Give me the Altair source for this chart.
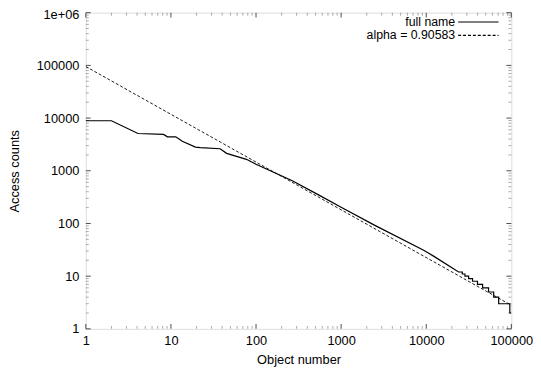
import altair as alt
import pandas as pd

# ---- data ----
series_names = ["full name", "alpha = 0.90583"]

full_rank = [1, 2, 4.1, 8.2, 9.1, 11.4, 13.6, 19.4, 22.2, 37.8, 45.2, 77, 100,
             267, 543, 1000, 2460, 9330, 12200,
             24000, 26500, 26500, 28500, 28500, 31500, 31500, 35000, 35000,
             40000, 40000, 46000, 46000, 54000, 54000, 62000, 62000, 71000,
             71000, 96000, 96000, 100000]
full_count = [8900, 8900, 5100, 4900, 4400, 4400, 3640, 2810, 2740, 2620, 2140, 1650, 1330,
              646, 349, 204, 93, 31, 24,
              12, 12, 11, 11, 10, 10, 9, 9, 8,
              8, 7, 7, 6, 6, 5, 5, 4, 4,
              3, 3, 2, 2]

fit_rank = [1, 100000]
fit_count = [95000, 2.8]

x_ticks = [1, 10, 100, 1000, 10000, 100000]
x_tick_labels = ["1", "10", "100", "1000", "10000", "100000"]
y_ticks = [1, 10, 100, 1000, 10000, 100000, 1000000]
y_tick_labels = ["1", "10", "100", "1000", "10000", "100000", "1e+06"]
minor_mult = [2, 3, 4, 5, 6, 7, 8, 9]

# ---- tables ----
full_df = pd.DataFrame({"rank": full_rank, "count": full_count,
                        "series": series_names[0], "i": range(len(full_rank))})
fit_df = pd.DataFrame({"rank": fit_rank, "count": fit_count,
                       "series": series_names[1], "i": range(len(fit_rank))})

x_minor = [m * d for d in x_ticks[:-1] for m in minor_mult]
y_minor = [m * d for d in y_ticks[:-1] for m in minor_mult]


def label_expr(vals, labs):
    expr = "''"
    for v, l in reversed(list(zip(vals, labs))):
        expr = f"datum.value == {v} ? '{l}' : ({expr})"
    return expr


FONT = "Liberation Sans"
W, H = 432, 321

xscale = alt.Scale(type="log", domain=[1, 100000], nice=False)
yscale = alt.Scale(type="log", domain=[1, 1000000], nice=False)

x_axis = alt.Axis(values=x_ticks, labelExpr=label_expr(x_ticks, x_tick_labels),
                  title="Object number", grid=False, ticks=False, tickSize=0,
                  domain=False, labelPadding=6, labelFont=FONT, labelFontSize=13,
                  labelColor="black", titleFont=FONT, titleFontSize=13,
                  titleFontWeight="normal", titleColor="black",
                  titleX=W / 2, titleY=31, titleBaseline="middle",
                  labelOverlap=False, labelFlush=False)
y_axis = alt.Axis(values=y_ticks, labelExpr=label_expr(y_ticks, y_tick_labels),
                  title="Access counts", grid=False, ticks=False, tickSize=0,
                  domain=False, labelPadding=7, labelFont=FONT, labelFontSize=13,
                  labelOffset={"condition": {"test": "datum.value == 1000000",
                                             "value": 2}, "value": 0},
                  labelColor="black", titleFont=FONT, titleFontSize=13,
                  titleFontWeight="normal", titleColor="black",
                  titleX=-72, titleY=H / 2, titleAngle=-90,
                  titleBaseline="middle", titleAlign="center",
                  labelOverlap=False, labelFlush=False)


def make_legend(ly):
    return alt.Legend(title=None, orient="none", legendX=377, legendY=ly,
                      symbolType="stroke", symbolSize=1681,
                      symbolStrokeWidth=1.1, symbolStrokeColor="black",
                      labelAlign="right",
                      labelOffset={"expr": "-45"}, labelFont=FONT, labelFontSize=12.5,
                      labelColor="black", labelLimit=300)


full_line = alt.Chart(full_df).mark_line(clip=True, strokeWidth=1.2).encode(
    x=alt.X("rank:Q", scale=xscale, axis=x_axis),
    y=alt.Y("count:Q", scale=yscale, axis=y_axis),
    color=alt.Color("series:N", scale=alt.Scale(domain=[series_names[0]], range=["black"]),
                    legend=make_legend(-12)),
    order="i:Q",
)

fit_line = alt.Chart(fit_df).mark_line(clip=True, strokeWidth=0.9, color="black").encode(
    x=alt.X("rank:Q", scale=xscale),
    y=alt.Y("count:Q", scale=yscale),
    strokeDash=alt.StrokeDash("series:N",
                              scale=alt.Scale(domain=[series_names[1]], range=[[3, 2]]),
                              legend=make_legend(1.5)),
    order="i:Q",
)

tick_layers = []
for vals, ln, col in [(x_ticks, 5, "black"), (x_minor, 3, "#888888")]:
    tdf = pd.DataFrame({"v": vals})
    tick_layers.append(alt.Chart(tdf).mark_tick(orient="vertical", size=ln, thickness=1,
                                                color=col, yOffset=-ln / 2).encode(
        x=alt.X("v:Q", scale=xscale), y=alt.datum(1)))
    tick_layers.append(alt.Chart(tdf).mark_tick(orient="vertical", size=ln, thickness=1,
                                                color=col, yOffset=ln / 2).encode(
        x=alt.X("v:Q", scale=xscale), y=alt.datum(1000000)))
for vals, ln, col in [(y_ticks, 5, "black"), (y_minor, 3, "#888888")]:
    tdf = pd.DataFrame({"v": vals})
    tick_layers.append(alt.Chart(tdf).mark_tick(orient="horizontal", size=ln, thickness=1,
                                                color=col, xOffset=ln / 2).encode(
        y=alt.Y("v:Q", scale=yscale), x=alt.datum(1)))
    tick_layers.append(alt.Chart(tdf).mark_tick(orient="horizontal", size=ln, thickness=1,
                                                color=col, xOffset=-ln / 2).encode(
        y=alt.Y("v:Q", scale=yscale), x=alt.datum(100000)))

chart = alt.layer(*tick_layers, full_line, fit_line).resolve_legend(
    color="independent", strokeDash="independent"
).properties(
    width=W, height=H,
    autosize=alt.AutoSizeParams(type="none"),
    padding={"left": 79, "top": 2, "right": 22, "bottom": 38},
).configure_view(stroke="black", strokeWidth=1.2).configure(background="white")

chart.save("out.html", embed_options={"renderer": "svg", "actions": False})
